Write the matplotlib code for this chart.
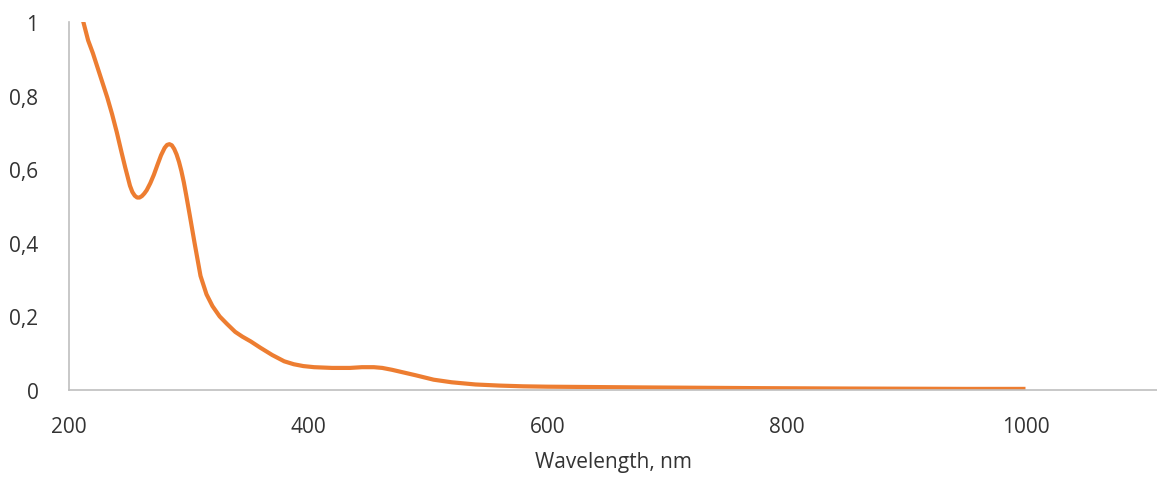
import matplotlib.pyplot as plt
from matplotlib.ticker import FuncFormatter

# absorbance spectrum
wavelength = [208, 212, 216, 220, 224, 228, 232, 236, 240, 244, 247, 249, 251,
              253, 255, 257, 259, 261, 263, 265, 268, 271, 274, 277, 280, 282,
              284, 286, 288, 290, 292, 294, 296, 298, 301, 305, 310, 315, 320,
              326, 332, 339, 345, 352, 360, 370, 380, 388, 396, 405, 420, 435,
              445, 455, 462, 470, 478, 490, 505, 520, 540, 560, 580, 600, 640,
              680, 730, 780, 850, 900, 950, 1000]
absorbance = [1.05, 1.0, 0.95, 0.915, 0.875, 0.835, 0.795, 0.75, 0.70, 0.645,
              0.605, 0.58, 0.555, 0.538, 0.528, 0.523, 0.523, 0.527, 0.534,
              0.543, 0.562, 0.585, 0.612, 0.638, 0.658, 0.666, 0.668, 0.665,
              0.655, 0.64, 0.62, 0.595, 0.565, 0.53, 0.475, 0.40, 0.31, 0.26,
              0.228, 0.20, 0.18, 0.158, 0.145, 0.132, 0.115, 0.095, 0.078, 0.07,
              0.065, 0.062, 0.06, 0.06, 0.062, 0.062, 0.06, 0.055, 0.049, 0.04,
              0.028, 0.021, 0.015, 0.012, 0.01, 0.009, 0.008, 0.007, 0.006,
              0.005, 0.004, 0.0035, 0.003, 0.003]

x_ticks = [200, 400, 600, 800, 1000]
y_ticks = [0, 0.2, 0.4, 0.6, 0.8, 1]

plt.rcParams['font.family'] = ['Open Sans', 'DejaVu Sans']

fig = plt.figure(figsize=(11.57, 4.81), dpi=100)
ax = fig.add_axes([69 / 1157, 90 / 481, 1088 / 1157, 368 / 481])

ax.plot(wavelength, absorbance, color='#ED7D31', linewidth=3,
        solid_capstyle='butt', solid_joinstyle='round')

ax.set_xlim(200, 1110)
ax.set_ylim(0, 1)
ax.set_xticks(x_ticks)
ax.set_yticks(y_ticks)
ax.yaxis.set_major_formatter(FuncFormatter(lambda v, p: ('%g' % v).replace('.', ',')))

for side in ['top', 'right']:
    ax.spines[side].set_visible(False)
for side in ['left', 'bottom']:
    ax.spines[side].set_color('#BFBFBF')
    ax.spines[side].set_linewidth(1.2)

ax.tick_params(axis='both', length=0, labelsize=15, labelcolor='#333333')
ax.tick_params(axis='y', pad=22)
ax.tick_params(axis='x', pad=19)

ax.set_xlabel('Wavelength, nm', fontsize=15, color='#333333', labelpad=10)

fig.savefig('out.png', dpi=100)
